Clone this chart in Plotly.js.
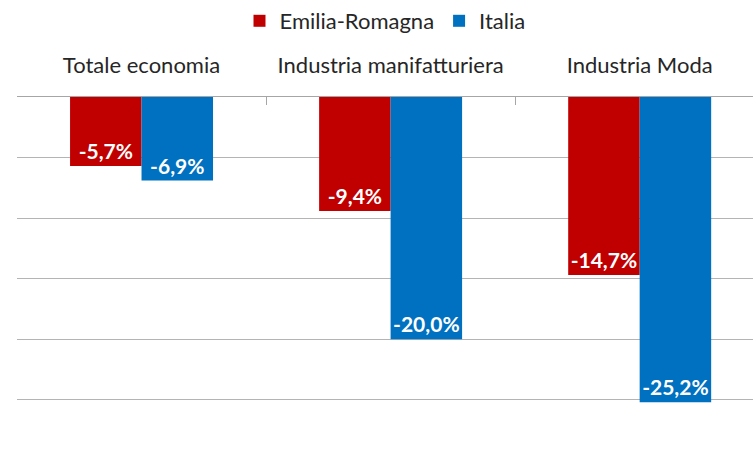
<!DOCTYPE html>
<html><head><meta charset="utf-8">
<script src="https://cdn.plot.ly/plotly-3.0.1.min.js"></script>
<style>html,body{margin:0;padding:0;background:#fff}#chart{width:753px;height:456px}</style>
</head><body><div id="chart"></div>
<script>
const categories = ["Totale economia", "Industria manifatturiera", "Industria Moda"];
const emiliaRomagna = [-5.7, -9.4, -14.7];
const italia = [-6.9, -20.0, -25.2];
const seriesNames = ["Emilia-Romagna", "Italia"];

const FONT = "Lato, 'Open Sans', sans-serif";
const common = {
  type: "bar", x: categories,
  texttemplate: "%{y:.1f}%", textposition: "inside", insidetextanchor: "end",
  textangle: 0, constraintext: "none",
  textfont: {family: FONT, size: 21, color: "#ffffff", weight: "bold"},
  hoverinfo: "skip"
};
const data = [
  Object.assign({}, common, {name: seriesNames[0], y: emiliaRomagna, marker: {color: "#C00000"}}),
  Object.assign({}, common, {name: seriesNames[1], y: italia, marker: {color: "#0070C0"}})
];
const layout = {
  width: 753, height: 456,
  margin: {l: 17, r: 0, t: 97, b: 44},
  paper_bgcolor: "#fff", plot_bgcolor: "#fff",
  separators: ",.",
  barmode: "group", bargap: 0.426, bargroupgap: 0,
  font: {family: FONT, size: 22, color: "#262626"},
  showlegend: true,
  legend: {orientation: "h", x: 0.5, xanchor: "center", y: 1, yref: "container", yanchor: "top",
           font: {family: FONT, size: 22, color: "#262626"}, itemwidth: 30, traceorder: "normal"},
  xaxis: {side: "top", type: "category", range: [-0.5, 2.455], showline: true, linecolor: "#a6a6a6", linewidth: 1,
          ticks: "inside", tickson: "boundaries", ticklen: 8, tickcolor: "#a6a6a6",
          showgrid: false, zeroline: false, ticklabelstandoff: 14,
          tickfont: {family: FONT, size: 22, color: "#262626"}},
  yaxis: {range: [-26, 0], dtick: 5, tick0: 0, showticklabels: false, showgrid: true,
          gridcolor: "#b4b4b4", gridwidth: 1, zeroline: false, showline: false, ticks: ""}
};
Plotly.newPlot("chart", data, layout, {staticPlot: true, displayModeBar: false});
</script></body></html>
